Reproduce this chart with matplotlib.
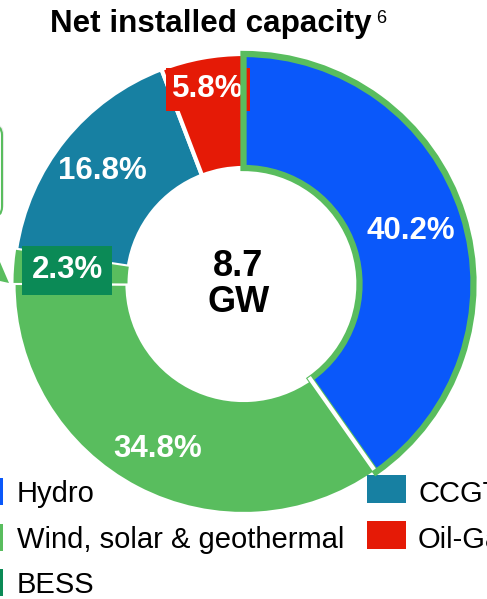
import matplotlib.pyplot as plt
from matplotlib.patches import Wedge, Rectangle, FancyBboxPatch, Polygon
import numpy as np

plt.rcParams['font.family'] = ['Liberation Sans', 'DejaVu Sans']

# Data
sources = ["Hydro", "Wind, solar & geothermal", "BESS", "CCGT", "Oil-Gas"]
shares = [40.2, 34.8, 2.3, 16.8, 5.8]
total_label = ["8.7", "GW"]
colors = ["#0A58FA", "#59BD5E", "#0B8A56", "#1780A2", "#E51A06"]
title = "Net installed capacity"
footnote = "6"

highlight = "#59BD5E"
W, H = 487, 599

fig = plt.figure(figsize=(W / 100, H / 100), dpi=100)
ax = fig.add_axes([0, 0, 1, 1])

# Donut (pixel coordinates, y up)
cx, cy = 243.5, H - 284
R, r_in = 230, 116
wedges, _ = ax.pie(shares, colors=colors, startangle=90, counterclock=False,
                   radius=R, center=(cx, cy),
                   wedgeprops=dict(width=R - r_in, edgecolor='white', linewidth=3))

# highlight outlines
w = wedges[0]
hyd = Wedge((cx, cy), R, w.theta1, w.theta2, width=R - r_in, fill=False,
            edgecolor=highlight, lw=4.5, zorder=5)
ax.add_patch(hyd)
# white gap between hydro and wind stays visible over the outline
a = np.deg2rad(w.theta1)
ax.plot([cx + (r_in - 2) * np.cos(a), cx + (R - 3) * np.cos(a)],
        [cy + (r_in - 2) * np.sin(a), cy + (R - 3) * np.sin(a)],
        color='white', lw=3, zorder=6, solid_capstyle='butt')

w = wedges[2]
bess = Wedge((cx, cy), R, w.theta1, w.theta2, width=R - r_in, fill=False,
             edgecolor=highlight, lw=22, zorder=2)
ax.add_patch(bess)
bess.set_clip_path(w)

# slice labels
label_r = [176, 186, 177, 181, 198]
label_bg = [None, None, colors[2], None, colors[4]]
label_pad = [0, 0, 0.3, 0, 0.2]
for w, val, rr, bg, pad in zip(wedges, shares, label_r, label_bg, label_pad):
    mid = np.deg2rad((w.theta1 + w.theta2) / 2)
    x, y = cx + rr * np.cos(mid), cy + rr * np.sin(mid)
    kw = {}
    if bg:
        kw['bbox'] = dict(boxstyle=f'square,pad={pad}', fc=bg, ec='none')
    ax.text(x, y, f"{val:.1f}%", color='white', fontsize=22.5, fontweight='bold',
            ha='center', va='center', zorder=3, **kw)

# centre total
ax.text(238, H - 266, total_label[0], fontsize=26, fontweight='bold', ha='center', va='center')
ax.text(239, H - 303, total_label[1], fontsize=26, fontweight='bold', ha='center', va='center')

# title
ax.text(50, H - 32, title, fontsize=22.6, fontweight='bold', ha='left', va='baseline')
ax.text(376, H - 23, footnote, fontsize=13, ha='left', va='baseline')

# cropped callout box on the left
ax.add_patch(FancyBboxPatch((-84, H - 214), 88, 90, boxstyle='round,pad=0,rounding_size=10',
                            fc='#d9d9d9', ec='none', alpha=0.5, zorder=1))
ax.add_patch(FancyBboxPatch((-86, H - 217), 88, 92, boxstyle='round,pad=0,rounding_size=10',
                            fc='white', ec=highlight, lw=1.5, zorder=1.5))
ax.add_patch(Polygon([(0, H - 262), (9, H - 283), (0, H - 281)], closed=True,
                     fc=highlight, ec='none', zorder=1.5))

# legend
baselines = [502, 548, 593]
for i, (name, c) in enumerate(zip(sources, colors)):
    col, row = (0, i) if i < 3 else (1, i - 3)
    yb = H - baselines[row]
    if col == 0:
        ax.add_patch(Rectangle((-40, yb - 3), 43, 27, fc=c, ec='none'))
        ax.text(17, yb, name, fontsize=21, ha='left', va='baseline')
    else:
        ax.add_patch(Rectangle((367, yb - 1), 39, 28, fc=c, ec='none'))
        ax.text(418, yb, name, fontsize=21, ha='left', va='baseline')

ax.set_xlim(0, W)
ax.set_ylim(0, H)
ax.set_aspect('equal')
ax.axis('off')

fig.savefig("out.png", dpi=100)
